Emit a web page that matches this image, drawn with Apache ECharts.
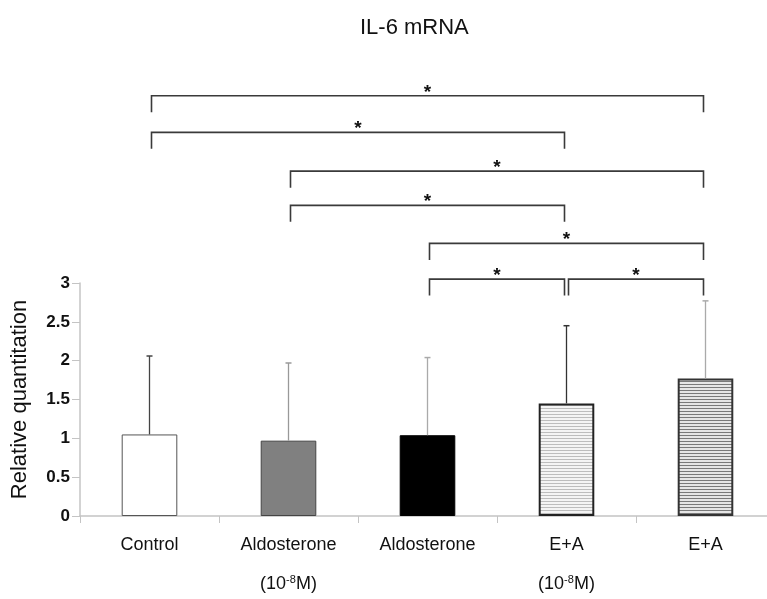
<!DOCTYPE html>
<html><head><meta charset="utf-8">
<script src="https://cdn.jsdelivr.net/npm/echarts@6/dist/echarts.min.js"></script>
<style>html,body{margin:0;padding:0;background:#fff}#c{width:767px;height:599px}</style>
</head><body><div id="c"></div>
<script>
// ---- data ----
const categories = ['Control', 'Aldosterone\n(10{sup|-8}M)', 'Aldosterone', 'E+A\n(10{sup|-8}M)', 'E+A'];
const means = [1.05, 0.97, 1.04, 1.45, 1.77];
const errorTops = [2.06, 1.97, 2.04, 2.45, 2.77];
// [fromCategoryIndex, toCategoryIndex, bracketLevel]
const brackets = [[0, 4, 5.41], [0, 3, 4.94], [1, 4, 4.44], [1, 3, 4.0], [2, 4, 3.51], [2, 3, 3.05], [3, 4, 3.05]];
const bracketMark = '*';
const yMin = 0, yMax = 3, yStep = 0.5;
const titleText = 'IL-6 mRNA';
const yName = 'Relative quantitation';

// ---- styles ----
function stripe(line, bg, period) {
  const c = document.createElement('canvas');
  c.width = 4; c.height = period;
  const g = c.getContext('2d');
  g.fillStyle = bg; g.fillRect(0, 0, 4, period);
  g.fillStyle = line; g.fillRect(0, 0, 4, 1);
  return { image: c, repeat: 'repeat' };
}
const barStyles = [
  { color: '#ffffff', borderColor: '#555', borderWidth: 1 },
  { color: '#808080', borderColor: '#444', borderWidth: 1 },
  { color: '#000000', borderColor: '#000', borderWidth: 1 },
  { color: stripe('#bdbdbd', '#f4f4f4', 3), borderColor: '#222', borderWidth: 2 },
  { color: stripe('#7a7a7a', '#e6e6e6', 3), borderColor: '#333', borderWidth: 2 }
];
const errColors = ['#444', '#999', '#aaa', '#333', '#aaa'];

const chart = echarts.init(document.getElementById('c'), null, { renderer: 'canvas' });
chart.setOption({
  animation: false,
  backgroundColor: '#fff',
  title: {
    text: titleText, left: 355, top: 12,
    textStyle: { fontFamily: 'Liberation Sans', fontSize: 22, fontWeight: 'normal', color: '#111' }
  },
  grid: { left: 80, width: 695, top: 283, height: 233, containLabel: false, outerBoundsMode: 'none' },
  xAxis: {
    type: 'category', data: categories,
    axisLine: { lineStyle: { color: '#c4c4c4', width: 1.5 } },
    axisTick: { show: true, length: 7, lineStyle: { color: '#c4c4c4' } },
    axisLabel: {
      interval: 0, margin: 10, fontFamily: 'Liberation Sans', fontSize: 18, color: '#111', lineHeight: 39,
      rich: { sup: { fontSize: 11, fontFamily: 'Liberation Sans', color: '#111', padding: [0, 0, 9, 0] } }
    }
  },
  yAxis: {
    type: 'value', min: yMin, max: yMax, interval: yStep,
    name: yName, nameLocation: 'middle', nameGap: 49,
    nameTextStyle: { fontFamily: 'Liberation Sans', fontSize: 22, color: '#111' },
    axisLine: { show: true, lineStyle: { color: '#c4c4c4', width: 1.5 } },
    axisTick: { show: true, length: 8, lineStyle: { color: '#c4c4c4' } },
    splitLine: { show: false },
    axisLabel: { margin: 10, fontFamily: 'Liberation Sans', fontSize: 17, fontWeight: 'bold', color: '#111' }
  },
  series: [
    {
      type: 'bar', barWidth: '40%',
      data: means.map((v, i) => ({ value: v, itemStyle: barStyles[i] })),
      z: 2
    },
    {
      type: 'custom', z: 3,
      data: means.map((m, i) => [i, m, errorTops[i]]),
      encode: { x: 0, y: [1, 2] },
      renderItem: function (params, api) {
        const i = api.value(0);
        const b = api.coord([i, api.value(1)]);
        const t = api.coord([i, api.value(2)]);
        const col = errColors[i];
        return {
          type: 'group', children: [
            { type: 'line', shape: { x1: b[0], y1: b[1], x2: t[0], y2: t[1] }, style: { stroke: col, lineWidth: 1.3 } },
            { type: 'line', shape: { x1: t[0] - 3, y1: t[1], x2: t[0] + 3, y2: t[1] }, style: { stroke: col, lineWidth: 1.5 } }
          ]
        };
      }
    },
    {
      type: 'custom', z: 4, clip: false,
      data: brackets,
      encode: { x: [0, 1], y: 2 },
      renderItem: function (params, api) {
        const l = api.coord([api.value(0), api.value(2)]);
        const r = api.coord([api.value(1), api.value(2)]);
        const y = l[1];
        const xl = l[0] + 2, xr = r[0] - 2;
        const drop = 16.5;
        return {
          type: 'group', children: [
            { type: 'polyline', shape: { points: [[xl, y + drop], [xl, y], [xr, y], [xr, y + drop]] },
              style: { stroke: '#3a3a3a', lineWidth: 1.6, fill: null } },
            { type: 'text', x: (xl + xr) / 2, y: y - 3.5,
              style: { text: bracketMark, fontFamily: 'Liberation Sans', fontSize: 19, fontWeight: 'bold',
                       fill: '#111', align: 'center', verticalAlign: 'middle' } }
          ]
        };
      }
    }
  ]
});
</script></body></html>
